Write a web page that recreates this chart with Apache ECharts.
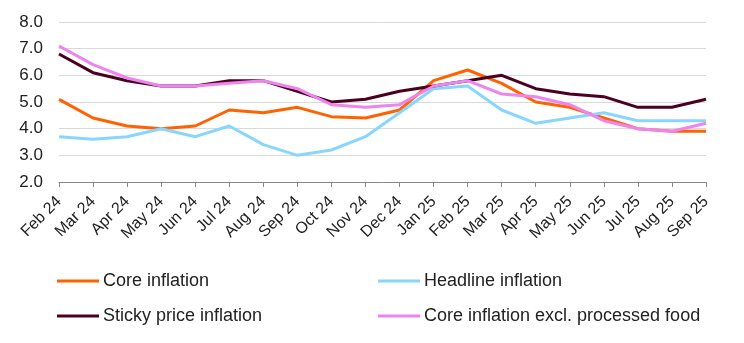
<!DOCTYPE html>
<html>
<head>
<meta charset="utf-8">
<script src="https://cdn.jsdelivr.net/npm/echarts@6/dist/echarts.min.js"></script>
<style>html,body{margin:0;padding:0;background:#fff}#c{width:744px;height:343px}</style>
</head>
<body>
<div id="c"></div>
<script>
const categories = ['Feb 24','Mar 24','Apr 24','May 24','Jun 24','Jul 24','Aug 24','Sep 24','Oct 24','Nov 24','Dec 24','Jan 25','Feb 25','Mar 25','Apr 25','May 25','Jun 25','Jul 25','Aug 25','Sep 25'];
const coreInflation = [5.1,4.4,4.1,4.0,4.1,4.7,4.6,4.8,4.45,4.4,4.7,5.8,6.2,5.7,5.0,4.8,4.4,4.0,3.9,3.9];
const headlineInflation = [3.7,3.6,3.7,4.0,3.7,4.1,3.4,3.0,3.2,3.7,4.6,5.5,5.6,4.7,4.2,4.4,4.6,4.3,4.3,4.3];
const stickyInflation = [6.8,6.1,5.8,5.6,5.6,5.8,5.8,5.4,5.0,5.1,5.4,5.6,5.8,6.0,5.5,5.3,5.2,4.8,4.8,5.1];
const coreExclFood = [7.1,6.4,5.9,5.6,5.6,5.7,5.8,5.5,4.9,4.8,4.9,5.6,5.8,5.3,5.2,4.9,4.3,4.0,3.9,4.2];
const yTicks = {min: 2, max: 8, interval: 1};

const FONT = '"Liberation Sans", Arial, sans-serif';
const chart = echarts.init(document.getElementById('c'));
const mk = (name, data, color) => ({
  name, type: 'line', data, symbol: 'none',
  lineStyle: {width: 3, color}, itemStyle: {color}
});
chart.setOption({
  animation: false,
  textStyle: {fontFamily: FONT},
  grid: {left: 59, right: 38, top: 22, bottom: 161, containLabel: false},
  xAxis: {
    type: 'category', data: categories, boundaryGap: false,
    axisLine: {lineStyle: {color: '#888', width: 1}},
    axisTick: {show: true, alignWithLabel: true, length: 5, interval: 0, lineStyle: {color: '#888'}},
    axisLabel: {rotate: 45, interval: 0, fontSize: 16, color: '#222', margin: 17, fontFamily: FONT}
  },
  yAxis: {
    type: 'value', min: yTicks.min, max: yTicks.max, interval: yTicks.interval,
    axisLine: {show: false}, axisTick: {show: false},
    splitLine: {lineStyle: {color: '#d9d9d9', width: 1}},
    axisLabel: {formatter: v => v.toFixed(1), fontSize: 17, color: '#222', margin: 16, fontFamily: FONT}
  },
  legend: [
    {data: ['Core inflation', 'Sticky price inflation'], orient: 'vertical', left: 57, top: 271,
     padding: 0, itemGap: 15, icon: 'rect', itemWidth: 42, itemHeight: 3,
     textStyle: {fontSize: 18, color: '#222', lineHeight: 20, padding: [0,0,0,-1], fontFamily: FONT}},
    {data: ['Headline inflation', 'Core inflation excl. processed food'], orient: 'vertical', left: 378, top: 271,
     padding: 0, itemGap: 15, icon: 'rect', itemWidth: 42, itemHeight: 3,
     textStyle: {fontSize: 18, color: '#222', lineHeight: 20, padding: [0,0,0,-1], fontFamily: FONT}}
  ],
  series: [
    mk('Core inflation', coreInflation, '#ff6200'),
    mk('Headline inflation', headlineInflation, '#89d6fd'),
    mk('Sticky price inflation', stickyInflation, '#4b0020'),
    mk('Core inflation excl. processed food', coreExclFood, '#ee84ee')
  ]
});
</script>
</body>
</html>
